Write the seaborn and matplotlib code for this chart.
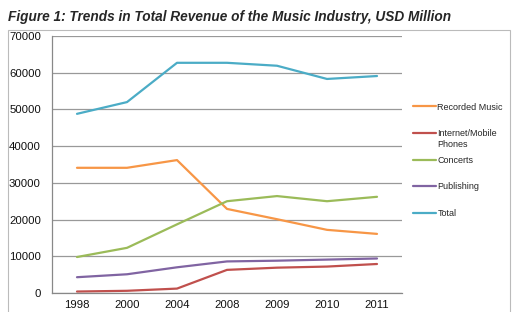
import pandas as pd
import seaborn as sns
import matplotlib.pyplot as plt
from matplotlib.patches import Rectangle

# --- data ---
years = ['1998', '2000', '2004', '2008', '2009', '2010', '2011']
recorded_music = [34100, 34100, 36200, 22900, 20100, 17200, 16100]
internet_mobile = [400, 600, 1200, 6300, 6900, 7200, 7900]
concerts = [9800, 12300, 18700, 25000, 26400, 25000, 26200]
publishing = [4300, 5100, 7000, 8600, 8800, 9100, 9400]
total = [48800, 52000, 62700, 62700, 61900, 58300, 59100]

series_names = ['Recorded Music', 'Internet/Mobile', 'Concerts', 'Publishing', 'Total']
series_values = [recorded_music, internet_mobile, concerts, publishing, total]
colors = ['#F79646', '#C0504D', '#9BBB59', '#8064A2', '#4BACC6']

rows = []
for name, vals in zip(series_names, series_values):
    for yr, v in zip(years, vals):
        rows.append({'year': yr, 'revenue': v, 'series': name})
df = pd.DataFrame(rows)

sns.set_style('white')
plt.rcParams['font.family'] = ['Liberation Sans', 'DejaVu Sans']

fig = plt.figure(figsize=(5.12, 3.12), dpi=100)
ax = fig.add_axes([52 / 512, 19 / 312, 350 / 512, 257 / 312])

sns.lineplot(data=df, x='year', y='revenue', hue='series', hue_order=series_names,
             palette=colors, linewidth=1.6, ax=ax)

# axes styling
ax.set_xlim(-0.5, len(years) - 0.5)
ax.set_ylim(0, 70000)
ax.set_yticks(range(0, 70001, 10000))
ax.set_xticks(range(len(years)))
ax.set_xticklabels(years)
ax.set_xticks([i - 0.5 for i in range(len(years) + 1)], minor=True)
ax.tick_params(axis='x', which='major', length=0, pad=5, labelsize=8.2, colors='#111111')
ax.tick_params(axis='x', which='minor', length=4, color='#888888', direction='out')
ax.tick_params(axis='y', length=5, direction='out', pad=3, labelsize=8.2, colors='#111111')
ax.tick_params(axis='y', color='#888888')
ax.yaxis.grid(True, color='#999999', linewidth=0.9)
ax.set_axisbelow(True)
for side in ['top', 'right']:
    ax.spines[side].set_visible(False)
for side in ['left', 'bottom']:
    ax.spines[side].set_color('#888888')
    ax.spines[side].set_linewidth(0.9)
ax.set_xlabel('')
ax.set_ylabel('')

leg = ax.legend(loc='upper left', bbox_to_anchor=(1.02, 0.755), frameon=False,
                fontsize=6.5, handlelength=2.6, handletextpad=0.15, labelspacing=1.95,
                borderaxespad=0)

# second line of the "Internet/Mobile Phones" label hangs below its entry
fig.canvas.draw()
bb = leg.get_texts()[1].get_window_extent().transformed(fig.transFigure.inverted())
fig.text(bb.x0, bb.y0 - 2 / 312, 'Phones', fontsize=6.5, ha='left', va='top')

# outer frame and title
fig.patches.append(Rectangle((8 / 512, -0.02), 502 / 512, 0.924, transform=fig.transFigure,
                             fill=False, edgecolor='#BBBBBB', linewidth=0.8))
fig.text(8 / 512, 1 - 17 / 312, 'Figure 1: Trends in Total Revenue of the Music Industry, USD Million',
         fontsize=9.8, fontweight='bold', fontstyle='italic', va='center', ha='left')

fig.savefig('out.png', dpi=100)
